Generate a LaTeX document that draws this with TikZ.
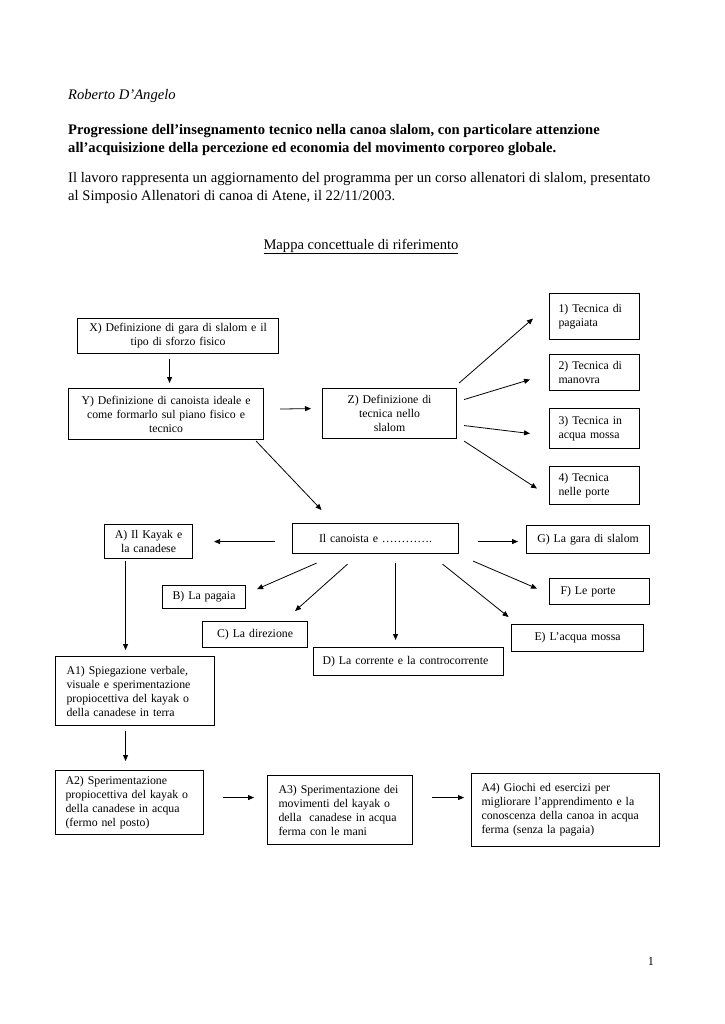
\documentclass[tikz,border=0pt]{standalone}
\usepackage{fontspec}
\setmainfont{Liberation Serif}
\usetikzlibrary{arrows.meta,calc}
\begin{document}
\begin{tikzpicture}[x=1pt,y=-1pt,
  box/.style={draw,line width=1.1pt,inner sep=0pt,font=\fontsize{11.8}{14}\selectfont},
  hdr/.style={anchor=base west,inner sep=0pt,font=\fontsize{14.6}{17.5}\selectfont},
  arr/.style={line width=0.8pt,-{Triangle[length=6pt,width=5pt]}}]
\useasboundingbox (0,0) rectangle (724,1024);
% header
\node[hdr,font=\fontsize{14.6}{17.5}\selectfont\itshape] (author) at (68,100) {Roberto D’Angelo};
\node[hdr,font=\fontsize{14.6}{17.5}\selectfont\bfseries] (t1) at (68,135) {Progressione dell’insegnamento tecnico nella canoa slalom, con particolare attenzione};
\node[hdr,font=\fontsize{14.6}{17.5}\selectfont\bfseries] (t2) at (68,152.5) {all’acquisizione della percezione ed economia del movimento corporeo globale.};
\node[hdr] (p1) at (68,183) {Il lavoro rappresenta un aggiornamento del programma per un corso allenatori di slalom, presentato};
\node[hdr] (p2) at (68,200.5) {al Simposio Allenatori di canoa di Atene, il 22/11/2003.};
\node[hdr,anchor=base] (mappa) at (361,249) {\underline{Mappa concettuale di riferimento}};
% boxes
\node[box,anchor=north west,minimum width=90,minimum height=46,text width=72,align=left] (t1b) at (549,293) {1) Tecnica di\\pagaiata};
\node[box,anchor=north west,minimum width=201,minimum height=35,text width=199,align=center] (X) at (77,318) {X) Definizione di gara di slalom e il\\tipo di sforzo fisico};
\node[box,anchor=north west,minimum width=90,minimum height=36,text width=72,align=left] (t2b) at (549,354) {2) Tecnica di\\manovra};
\node[box,anchor=north west,minimum width=195,minimum height=51,text width=193,align=center] (Y) at (68,388) {Y) Definizione di canoista ideale e\\come formarlo sul piano fisico e\\tecnico};
\node[box,anchor=north west,minimum width=134,minimum height=50,text width=120,align=center] (Z) at (322,388) {Z) Definizione di\\tecnica nello\\slalom};
\node[box,anchor=north west,minimum width=90,minimum height=40,text width=72,align=left] (t3b) at (549,408) {3) Tecnica in\\acqua mossa};
\node[box,anchor=north west,minimum width=90,minimum height=38,text width=72,align=left] (t4b) at (549,466) {4) Tecnica\\nelle porte};
\node[box,anchor=north west,minimum width=166,minimum height=30,text width=160,align=center] (C0) at (292,523) {Il canoista e ………….};
\node[box,anchor=north west,minimum width=88,minimum height=34,text width=86,align=center] (A) at (104,524) {A) Il Kayak e\\la canadese};
\node[box,anchor=north west,minimum width=123,minimum height=28,text width=121,align=center] (G) at (526,525) {G) La gara di slalom};
\node[box,anchor=north west,minimum width=83,minimum height=23,text width=81,align=center] (B) at (162,585) {B) La pagaia};
\node[box,anchor=north west,minimum width=105,minimum height=26,text width=100,align=center] (C) at (202,621) {C) La direzione};
\node[box,anchor=north west,minimum width=190,minimum height=28,text width=172,align=left] (D) at (313,647) {D) La corrente e la controcorrente};
\node[box,anchor=north west,minimum width=132,minimum height=27,text width=128,align=center] (E) at (511,624) {E) L’acqua mossa};
\node[box,anchor=north west,minimum width=100,minimum height=26,text width=78,align=left] (F) at (549,578) {F) Le porte};
\node[box,anchor=north west,minimum width=159,minimum height=69,text width=137,align=left] (A1) at (55,656) {A1) Spiegazione verbale,\\visuale e sperimentazione\\propiocettiva del kayak o\\della canadese in terra};
\node[box,anchor=north west,minimum width=148,minimum height=64,text width=128,align=left] (A2) at (55,770) {A2) Sperimentazione\\propiocettiva del kayak o\\della canadese in acqua\\(fermo nel posto)};
\node[box,anchor=north west,minimum width=145,minimum height=69,text width=123,align=left] (A3) at (267,775) {A3) Sperimentazione dei\\movimenti del kayak o\\della~ canadese in acqua\\ferma con le mani};
\node[box,anchor=north west,minimum width=188,minimum height=73,text width=168,align=left] (A4) at (471,773) {A4) Giochi ed esercizi per\\migliorare l’apprendimento e la\\conoscenza della canoa in acqua\\ferma (senza la pagaia)};
\node[anchor=base,inner sep=0pt,font=\fontsize{12.2}{14}\selectfont] (pg) at (651,965) {1};
% arrows
\draw[arr] ($(X.south)+(-8.5,5)$) -- ($(Y.north)+(3.5,-5)$);
\draw[arr] ($(Y.east)+(16,-5)$) -- ($(Z.west)+(-11,-5)$);
\draw[arr] ($(Z.north east)+(2,-5)$) -- ($(t1b.west)+(-16,2)$);
\draw[arr] ($(Z.east)+(7,-14)$) -- ($(t2b.west)+(-19,7)$);
\draw[arr] ($(Z.east)+(7,12)$) -- ($(t3b.west)+(-19,5)$);
\draw[arr] ($(Z.south east)+(7,2)$) -- ($(t4b.west)+(-12,3)$);
\draw[arr] ($(Y.south east)+(-8,1)$) -- ($(C0.north)+(-54,-13)$);
\draw[arr] ($(C0.west)+(-17,3)$) -- ($(A.east)+(21,0)$);
\draw[arr] ($(C0.east)+(19,3)$) -- ($(G.west)+(-8,2)$);
\draw[arr] ($(C0.south)+(-59,9)$) -- ($(B.east)+(11,-8)$);
\draw[arr] ($(C0.south)+(-28,10)$) -- ($(C.north)+(40,-10)$);
\draw[arr] ($(C0.south)+(20,9)$) -- ($(D.north)+(-13,-7)$);
\draw[arr] ($(C0.south)+(67,10)$) -- ($(E.north)+(-69,-7)$);
\draw[arr] ($(C0.south east)+(14,7)$) -- ($(F.west)+(-12,-3)$);
\draw[arr] ($(A.south)+(-23,2)$) -- ($(A1.north)+(-9.5,-6)$);
\draw[arr] ($(A1.south)+(-9.5,5)$) -- ($(A2.north)+(-4,-9)$);
\draw[arr] ($(A2.east)+(19,-5)$) -- ($(A3.west)+(-13,-12.5)$);
\draw[arr] ($(A3.east)+(19,-12.5)$) -- ($(A4.west)+(-7,-12.5)$);
\end{tikzpicture}
\end{document}
